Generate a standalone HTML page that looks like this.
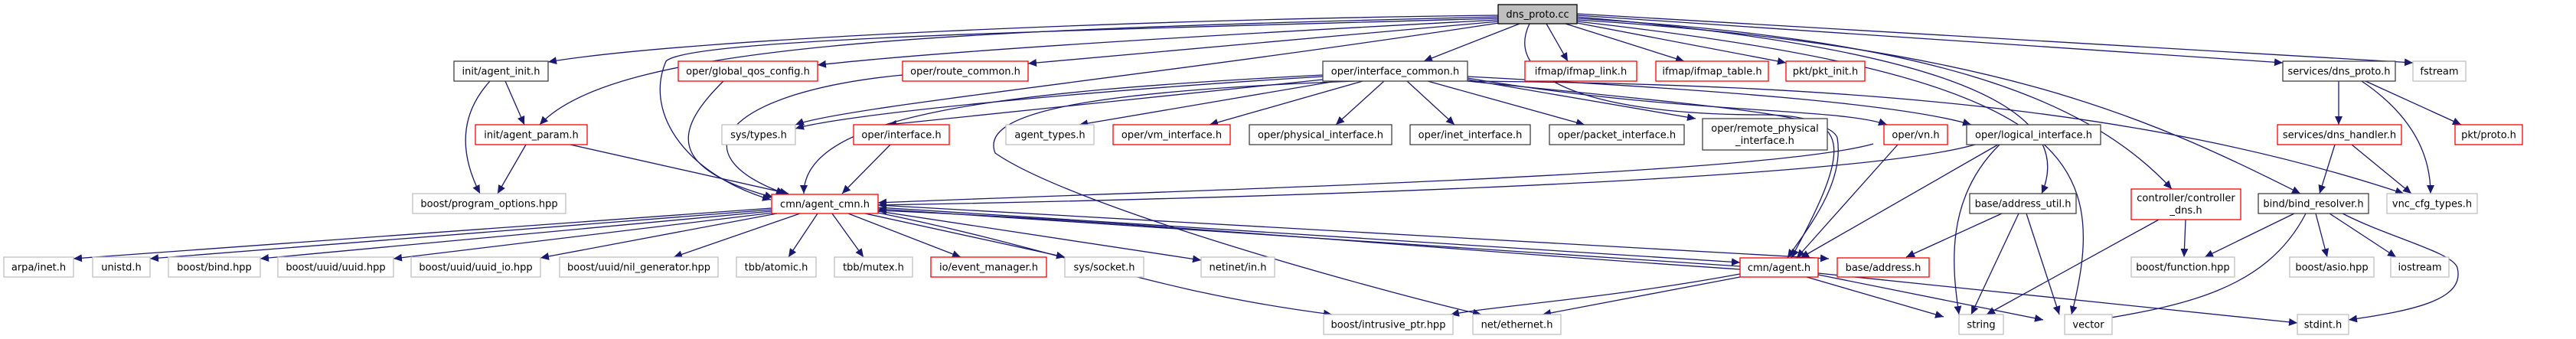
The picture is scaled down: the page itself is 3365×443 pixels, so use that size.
<!DOCTYPE html>
<html><head><meta charset="utf-8"><style>
html,body{margin:0;padding:0;background:#fff;}
svg{display:block;}
text{font-family:"DejaVu Sans","Liberation Sans",sans-serif;font-size:13px;fill:#000;}
.e{fill:none;stroke:#191970;stroke-width:1.3;}
.b{fill:#fff;stroke:#404040;stroke-width:1.3;}
.r{fill:#fff;stroke:#ff0000;stroke-width:1.3;}
.g{fill:#fff;stroke:#bfbfbf;stroke-width:1.3;}
</style></head><body>
<svg width="3365" height="443" viewBox="0 0 3365 443" xmlns="http://www.w3.org/2000/svg">
<defs><marker id="a" markerUnits="userSpaceOnUse" markerWidth="12" markerHeight="10" refX="11" refY="5" orient="auto"><path d="M0,0 L11,5 L0,10 z" fill="#191970"/></marker></defs>
<g class="e" marker-end="url(#a)">
<!-- dns_proto.cc -->
<path d="M1957,20 C1500,25 900,50 716,81"/>
<path d="M1957,22 C1200,40 800,60 705,163"/>
<path d="M1957,24 C1400,40 900,50 870,80 C840,150 900,230 1007,261"/>
<path d="M1957,26 C1500,50 1200,70 1068,85"/>
<path d="M1958,28 L1343,83"/>
<path d="M1958,30 C1500,100 1100,140 1039,163"/>
<path d="M1985,31 L1860,80"/>
<path d="M2020,31 L2048,80"/>
<path d="M2045,31 L2200,80"/>
<path d="M2060,30 L2333,82"/>
<path d="M2060,20 L2982,82"/>
<path d="M2060,18 L3152,82"/>
<path d="M2060,22 C2500,60 2720,130 2667,253"/>
<path d="M2060,24 C2500,50 2720,120 2837,247"/>
<path d="M2060,26 C2600,60 2800,150 3005,253"/>
<path d="M1998,31 C1960,110 2100,150 2300,150 C2420,150 2420,190 2340,337"/>
<path d="M2060,28 C2700,100 2760,200 2706,411"/>
<!-- interface_common -->
<path d="M1728,100 C1400,120 1100,150 1039,168"/>
<path d="M1728,98 C1300,120 1050,150 1050,253"/>
<path d="M1728,104 L1160,163"/>
<path d="M1745,106 L1410,163"/>
<path d="M1780,106 L1580,163"/>
<path d="M1808,106 L1745,163"/>
<path d="M1838,106 L1900,163"/>
<path d="M1865,106 L2070,163"/>
<path d="M1917,104 L2215,155"/>
<path d="M1917,102 C2200,150 2400,140 2465,163"/>
<path d="M1917,100 C2300,120 2500,140 2575,163"/>
<path d="M1917,106 C2250,140 2390,150 2400,180 C2410,240 2360,300 2335,337"/>
<path d="M1770,106 C1400,120 1280,150 1300,200 C1400,270 1800,380 1935,411"/>
<path d="M1917,106 C2400,110 2800,140 3140,253"/>
<!-- left cluster -->
<path d="M660,106 L685,163"/>
<path d="M640,106 C600,150 600,200 627,253"/>
<path d="M687,189 L650,253"/>
<path d="M745,189 L1030,253"/>
<path d="M945,106 C880,170 870,220 1010,258"/>
<path d="M1179,98 C950,120 880,200 1025,253"/>
<path d="M1163,189 L1100,253"/>
<path d="M2447,188 C2300,230 1500,250 1147,265"/>
<path d="M2479,189 L2347,337"/>
<path d="M2580,189 C2400,240 1500,262 1147,268"/>
<path d="M2610,189 L2352,337"/>
<path d="M2612,189 C2540,260 2550,350 2559,411"/>
<!-- agent_cmn -->
<path d="M1008,272 L96,338"/>
<path d="M1008,274 L196,338"/>
<path d="M1008,276 L340,338"/>
<path d="M1010,278 L514,338"/>
<path d="M1015,279 L706,337"/>
<path d="M1045,279 L880,336"/>
<path d="M1068,279 L1030,336"/>
<path d="M1087,279 L1128,336"/>
<path d="M1108,279 L1255,336"/>
<path d="M1130,279 L1391,336"/>
<path d="M1147,276 L1569,340"/>
<path d="M1147,278 C1400,330 1500,380 1740,411"/>
<path d="M1147,271 L2273,343"/>
<path d="M1147,268 L2389,338"/>
<path d="M2273,348 L1147,273"/>
<path d="M2273,352 C1800,320 1500,290 1147,275"/>
<!-- agent.h -->
<path d="M2360,362 L2539,414"/>
<path d="M2375,359 L2669,418"/>
<path d="M2375,357 L3001,422"/>
<path d="M2273,358 C2100,390 1950,400 1895,411"/>
<path d="M2273,362 L2015,411"/>
<!-- address_util etc -->
<path d="M2615,279 L2490,336"/>
<path d="M2637,279 L2575,411"/>
<path d="M2647,279 L2690,411"/>
<path d="M2855,287 L2853,336"/>
<path d="M2820,287 L2595,411"/>
<path d="M3055,106 L3055,163"/>
<path d="M3085,106 C3150,150 3175,200 3175,253"/>
<path d="M3090,106 L3215,163"/>
<path d="M3050,189 L3030,253"/>
<path d="M3072,189 L3150,253"/>
<path d="M2997,279 L2880,336"/>
<path d="M3012,279 C2960,380 2850,400 2728,420"/>
<path d="M3025,279 L3040,336"/>
<path d="M3043,279 L3130,336"/>
<path d="M3060,279 C3120,310 3205,330 3210,350 C3220,390 3160,405 3068,418"/>
</g>
<g>
<rect x="1957" y="6" width="103" height="25" fill="#bfbfbf" stroke="#000" stroke-width="1.3"/><text x="2008.5" y="23" text-anchor="middle">dns_proto.cc</text>
<rect class="b" x="593" y="80" width="123" height="26"/><text x="654.5" y="97.5" text-anchor="middle">init/agent_init.h</text>
<rect class="r" x="886" y="80" width="182" height="26"/><text x="977" y="97.5" text-anchor="middle">oper/global_qos_config.h</text>
<rect class="r" x="1179" y="80" width="164" height="26"/><text x="1261" y="97.5" text-anchor="middle">oper/route_common.h</text>
<rect class="b" x="1728" y="80" width="189" height="26"/><text x="1822.5" y="97.5" text-anchor="middle">oper/interface_common.h</text>
<rect class="r" x="1992" y="80" width="146" height="26"/><text x="2065" y="97.5" text-anchor="middle">ifmap/ifmap_link.h</text>
<rect class="r" x="2163" y="80" width="147" height="26"/><text x="2236.5" y="97.5" text-anchor="middle">ifmap/ifmap_table.h</text>
<rect class="r" x="2333" y="80" width="103" height="26"/><text x="2384.5" y="97.5" text-anchor="middle">pkt/pkt_init.h</text>
<rect class="b" x="2982" y="80" width="147" height="26"/><text x="3055.5" y="97.5" text-anchor="middle">services/dns_proto.h</text>
<rect class="g" x="3152" y="80" width="69" height="26"/><text x="3186.5" y="97.5" text-anchor="middle">fstream</text>

<rect class="r" x="621" y="163" width="146" height="26"/><text x="694" y="180.5" text-anchor="middle">init/agent_param.h</text>
<rect class="g" x="943" y="163" width="96" height="26"/><text x="991" y="180.5" text-anchor="middle">sys/types.h</text>
<rect class="r" x="1115" y="163" width="125" height="26"/><text x="1177.5" y="180.5" text-anchor="middle">oper/interface.h</text>
<rect class="g" x="1314" y="163" width="115" height="26"/><text x="1371.5" y="180.5" text-anchor="middle">agent_types.h</text>
<rect class="r" x="1454" y="163" width="153" height="26"/><text x="1530.5" y="180.5" text-anchor="middle">oper/vm_interface.h</text>
<rect class="b" x="1632" y="163" width="186" height="26"/><text x="1725" y="180.5" text-anchor="middle">oper/physical_interface.h</text>
<rect class="b" x="1842" y="163" width="157" height="26"/><text x="1920.5" y="180.5" text-anchor="middle">oper/inet_interface.h</text>
<rect class="b" x="2024" y="163" width="176" height="26"/><text x="2112" y="180.5" text-anchor="middle">oper/packet_interface.h</text>
<rect class="b" x="2224" y="155" width="163" height="41"/><text x="2305.5" y="172" text-anchor="middle">oper/remote_physical</text><text x="2305.5" y="188" text-anchor="middle">_interface.h</text>
<rect class="r" x="2461" y="163" width="83" height="26"/><text x="2502.5" y="180.5" text-anchor="middle">oper/vn.h</text>
<rect class="b" x="2569" y="163" width="175" height="26"/><text x="2656.5" y="180.5" text-anchor="middle">oper/logical_interface.h</text>
<rect class="r" x="2975" y="163" width="162" height="26"/><text x="3056" y="180.5" text-anchor="middle">services/dns_handler.h</text>
<rect class="r" x="3207" y="163" width="88" height="26"/><text x="3251" y="180.5" text-anchor="middle">pkt/proto.h</text>

<rect class="g" x="539" y="253" width="200" height="26"/><text x="639" y="270.5" text-anchor="middle">boost/program_options.hpp</text>
<rect class="r" x="1008" y="254" width="139" height="25"/><text x="1077.5" y="271" text-anchor="middle">cmn/agent_cmn.h</text>
<rect class="b" x="2573" y="253" width="139" height="26"/><text x="2642.5" y="270.5" text-anchor="middle">base/address_util.h</text>
<rect class="r" x="2784" y="247" width="143" height="40"/><text x="2855.5" y="263" text-anchor="middle">controller/controller</text><text x="2855.5" y="279" text-anchor="middle">_dns.h</text>
<rect class="b" x="2950" y="253" width="144" height="26"/><text x="3022" y="270.5" text-anchor="middle">bind/bind_resolver.h</text>
<rect class="g" x="3118" y="253" width="118" height="26"/><text x="3177" y="270.5" text-anchor="middle">vnc_cfg_types.h</text>

<rect class="g" x="5" y="336" width="91" height="26"/><text x="50.5" y="353.5" text-anchor="middle">arpa/inet.h</text>
<rect class="g" x="121" y="336" width="75" height="26"/><text x="158.5" y="353.5" text-anchor="middle">unistd.h</text>
<rect class="g" x="220" y="336" width="120" height="26"/><text x="280" y="353.5" text-anchor="middle">boost/bind.hpp</text>
<rect class="g" x="363" y="336" width="151" height="26"/><text x="438.5" y="353.5" text-anchor="middle">boost/uuid/uuid.hpp</text>
<rect class="g" x="537" y="336" width="169" height="26"/><text x="621.5" y="353.5" text-anchor="middle">boost/uuid/uuid_io.hpp</text>
<rect class="g" x="731" y="336" width="207" height="26"/><text x="834.5" y="353.5" text-anchor="middle">boost/uuid/nil_generator.hpp</text>
<rect class="g" x="962" y="336" width="104" height="26"/><text x="1014" y="353.5" text-anchor="middle">tbb/atomic.h</text>
<rect class="g" x="1090" y="336" width="102" height="26"/><text x="1141" y="353.5" text-anchor="middle">tbb/mutex.h</text>
<rect class="r" x="1216" y="336" width="151" height="26"/><text x="1291.5" y="353.5" text-anchor="middle">io/event_manager.h</text>
<rect class="g" x="1391" y="336" width="103" height="26"/><text x="1442.5" y="353.5" text-anchor="middle">sys/socket.h</text>
<rect class="g" x="1569" y="336" width="96" height="26"/><text x="1617" y="353.5" text-anchor="middle">netinet/in.h</text>
<rect class="r" x="2273" y="337" width="102" height="25"/><text x="2324" y="354" text-anchor="middle">cmn/agent.h</text>
<rect class="r" x="2400" y="337" width="120" height="25"/><text x="2460" y="354" text-anchor="middle">base/address.h</text>
<rect class="g" x="2784" y="336" width="135" height="26"/><text x="2851.5" y="353.5" text-anchor="middle">boost/function.hpp</text>
<rect class="g" x="2991" y="336" width="110" height="26"/><text x="3046" y="353.5" text-anchor="middle">boost/asio.hpp</text>
<rect class="g" x="3123" y="336" width="76" height="26"/><text x="3161" y="353.5" text-anchor="middle">iostream</text>

<rect class="g" x="1729" y="411" width="169" height="26"/><text x="1813.5" y="428.5" text-anchor="middle">boost/intrusive_ptr.hpp</text>
<rect class="g" x="1924" y="411" width="115" height="26"/><text x="1981.5" y="428.5" text-anchor="middle">net/ethernet.h</text>
<rect class="g" x="2559" y="411" width="58" height="26"/><text x="2588" y="428.5" text-anchor="middle">string</text>
<rect class="g" x="2697" y="411" width="62" height="26"/><text x="2728" y="428.5" text-anchor="middle">vector</text>
<rect class="g" x="3001" y="411" width="67" height="26"/><text x="3034.5" y="428.5" text-anchor="middle">stdint.h</text>
</g>
</svg>
</body></html>
